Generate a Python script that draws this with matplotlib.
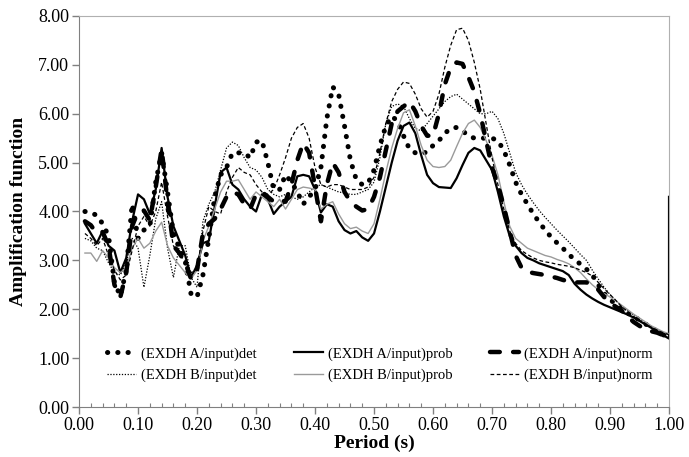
import numpy as np
import matplotlib
matplotlib.use("Agg")
import matplotlib.pyplot as plt
from matplotlib.ticker import MultipleLocator, FormatStrFormatter

plt.rcParams["font.family"] = ["Liberation Serif", "DejaVu Serif"]

# Period samples (s)
period = np.round(np.arange(0.01, 1.005, 0.01), 2)

a_det = [4.00, 3.98, 3.92, 3.75, 3.50, 2.55, 2.27, 2.80, 4.15, 3.45,
         3.62, 3.70, 4.60, 5.20, 4.40, 3.55, 3.25, 2.98, 2.30, 2.25,
         2.70, 3.45, 4.30, 4.75, 4.90, 5.20, 5.20, 5.20, 5.10, 5.42,
         5.45, 5.00, 4.45, 4.45, 4.75, 4.60, 4.40, 4.15, 4.30, 4.45,
         4.90, 5.90, 6.55, 6.40, 5.75, 5.05, 4.65, 4.55, 4.58, 4.85,
         5.35, 5.75, 5.95, 5.85, 5.55, 5.28, 5.20, 5.18, 5.22, 5.35,
         5.45, 5.60, 5.70, 5.72, 5.65, 5.55, 5.50, 5.50, 5.50, 5.50,
         5.45, 5.25, 4.95, 4.60, 4.35, 4.15, 3.95, 3.78, 3.62, 3.48,
         3.36, 3.25, 3.12, 3.02, 2.92, 2.82, 2.70, 2.50, 2.32, 2.20,
         2.10, 2.00, 1.92, 1.85, 1.78, 1.70, 1.62, 1.55, 1.48, 1.42]

a_prob = [3.75, 3.55, 3.35, 3.60, 3.30, 3.20, 2.75, 3.05, 3.80, 4.35,
          4.25, 3.95, 4.45, 5.30, 4.30, 3.70, 3.40, 3.10, 2.65, 2.90,
          3.35, 3.40, 4.10, 4.80, 4.90, 4.55, 4.45, 4.25, 4.10, 4.00,
          4.35, 4.25, 3.95, 4.10, 4.20, 4.30, 4.72, 4.75, 4.72, 4.45,
          3.98, 4.15, 4.10, 3.80, 3.62, 3.55, 3.60, 3.47, 3.40, 3.55,
          4.00, 4.50, 5.00, 5.45, 5.75, 5.82, 5.60, 5.15, 4.75, 4.58,
          4.50, 4.49, 4.48, 4.68, 4.95, 5.20, 5.30, 5.25, 5.05, 4.85,
          4.40, 3.90, 3.50, 3.30, 3.15, 3.05, 3.00, 2.94, 2.90, 2.86,
          2.82, 2.78, 2.70, 2.52, 2.40, 2.30, 2.22, 2.15, 2.09, 2.04,
          1.99, 1.94, 1.89, 1.83, 1.76, 1.69, 1.62, 1.55, 1.47, 1.40]
a_prob_end = 4.30  # jump drawn at T = 1.00

a_norm = [3.80, 3.72, 3.55, 3.58, 3.30, 2.50, 2.25, 2.75, 3.70, 4.00,
          4.02, 3.82, 4.50, 5.28, 4.20, 3.30, 3.15, 2.95, 2.62, 2.80,
          3.55, 3.75, 3.85, 4.05, 4.30, 4.40, 4.35, 4.15, 4.05, 4.35,
          4.40, 4.30, 4.20, 4.25, 4.20, 4.55, 5.05, 5.40, 5.20, 4.50,
          3.80, 4.55, 5.00, 4.80, 4.40, 4.20, 4.10, 4.02, 4.05, 4.30,
          4.70, 5.25, 5.80, 6.05, 6.15, 6.25, 6.05, 5.75, 5.55, 5.55,
          6.00, 6.60, 6.95, 7.05, 7.02, 6.75, 6.45, 6.00, 5.45, 4.90,
          4.55, 4.10, 3.60, 3.10, 2.85, 2.77, 2.74, 2.72, 2.70, 2.67,
          2.64, 2.60, 2.57, 2.55, 2.55, 2.55, 2.48, 2.40, 2.25, 2.13,
          2.05, 1.97, 1.85, 1.74, 1.66, 1.58, 1.55, 1.52, 1.47, 1.42]

b_det = [3.45, 3.40, 3.25, 3.20, 2.95, 2.75, 2.70, 2.95, 3.45, 3.25,
         2.45, 3.10, 3.85, 4.20, 3.25, 2.65, 3.30, 3.30, 2.65, 2.45,
         3.80, 4.15, 4.40, 4.85, 5.30, 5.42, 5.35, 5.10, 4.90, 4.85,
         4.70, 4.45, 4.35, 4.30, 4.35, 4.30, 4.25, 4.30, 4.40, 4.50,
         4.55, 4.50, 4.45, 4.40, 4.38, 4.35, 4.35, 4.40, 4.45, 4.60,
         5.10, 5.80, 6.15, 6.20, 6.15, 5.90, 5.70, 5.65, 5.80, 5.95,
         6.10, 6.25, 6.35, 6.40, 6.30, 6.20, 6.10, 6.00, 6.00, 6.05,
         5.90, 5.60, 5.20, 4.80, 4.55, 4.35, 4.18, 4.02, 3.88, 3.75,
         3.62, 3.50, 3.38, 3.25, 3.12, 3.00, 2.80, 2.62, 2.45, 2.30,
         2.18, 2.05, 1.97, 1.88, 1.80, 1.72, 1.65, 1.58, 1.52, 1.48]

b_prob = [3.15, 3.15, 2.98, 3.20, 3.05, 2.85, 2.75, 2.85, 3.25, 3.45,
          3.25, 3.35, 3.60, 3.78, 3.30, 3.05, 2.90, 2.75, 2.62, 2.80,
          3.40, 3.70, 4.05, 4.40, 4.62, 4.62, 4.65, 4.45, 4.25, 4.40,
          4.30, 4.20, 4.10, 4.25, 4.05, 4.25, 4.45, 4.50, 4.48, 4.45,
          4.05, 4.15, 4.20, 3.95, 3.75, 3.65, 3.68, 3.60, 3.55, 3.75,
          4.25, 4.80, 5.30, 5.70, 6.02, 6.08, 5.75, 5.35, 5.05, 4.92,
          4.90, 4.92, 5.05, 5.33, 5.60, 5.80, 5.87, 5.72, 5.45, 5.15,
          4.75, 4.20, 3.70, 3.45, 3.35, 3.25, 3.20, 3.15, 3.10, 3.07,
          3.02, 2.98, 2.93, 2.85, 2.75, 2.62, 2.50, 2.40, 2.32, 2.25,
          2.17, 2.08, 1.99, 1.90, 1.82, 1.74, 1.66, 1.60, 1.54, 1.50]

b_norm = [3.55, 3.45, 3.30, 3.45, 3.10, 2.80, 2.60, 2.70, 3.20, 3.70,
          3.90, 3.70, 4.00, 4.60, 3.90, 3.30, 3.10, 3.00, 2.75, 2.80,
          3.60, 4.10, 4.00, 3.95, 4.40, 4.70, 4.90, 4.80, 4.75, 4.55,
          4.40, 4.35, 4.45, 4.75, 5.10, 5.50, 5.72, 5.80, 5.50, 4.90,
          4.55, 4.50, 4.55, 4.55, 4.50, 4.45, 4.45, 4.45, 4.50, 4.70,
          5.20, 5.80, 6.25, 6.50, 6.65, 6.62, 6.40, 6.10, 5.93, 6.05,
          6.40, 6.95, 7.40, 7.72, 7.75, 7.50, 7.05, 6.50, 5.80, 5.10,
          4.55, 4.05, 3.60, 3.35, 3.20, 3.12, 3.05, 3.00, 2.97, 2.95,
          2.92, 2.90, 2.88, 2.85, 2.80, 2.75, 2.68, 2.55, 2.42, 2.30,
          2.18, 2.05, 1.95, 1.85, 1.77, 1.70, 1.63, 1.57, 1.52, 1.48]

fig, ax = plt.subplots(figsize=(6.89, 4.57), dpi=100)
fig.subplots_adjust(left=0.1147, right=0.971, bottom=0.1094, top=0.965)

ax.plot(period, a_det, color="black", lw=3.6, linestyle=(0, (0.05, 2.0)),
        dash_capstyle="round", label="(EXDH A/input)det")
ax.plot(period, b_det, color="black", lw=0.9, linestyle=(0, (1, 1.3)),
        label="(EXDH B/input)det")
ax.plot(np.append(period, 1.0), a_prob + [a_prob_end], color="black", lw=1.6,
        label="(EXDH A/input)prob")
ax.plot(period, b_prob, color="#9a9a9a", lw=1.0, label="(EXDH B/input)prob")
ax.plot(period, a_norm, color="black", lw=3.2, linestyle=(0, (2.2, 3.0)),
        dash_capstyle="round", label="(EXDH A/input)norm")
ax.plot(period, b_norm, color="black", lw=0.9, linestyle=(0, (3, 2)),
        label="(EXDH B/input)norm")

ax.set_xlim(0, 1.0)
ax.set_ylim(0, 8.0)
ax.xaxis.set_major_locator(MultipleLocator(0.1))
ax.xaxis.set_minor_locator(MultipleLocator(0.02))
ax.yaxis.set_major_locator(MultipleLocator(1.0))
ax.xaxis.set_major_formatter(FormatStrFormatter("%.2f"))
ax.yaxis.set_major_formatter(FormatStrFormatter("%.2f"))
ax.tick_params(axis="both", which="major", labelsize=13, color="#808080",
               length=5, width=1, direction="out", pad=2)
ax.tick_params(axis="x", which="minor", color="#808080", length=3,
               width=0.8, direction="in")

for side in ["left", "bottom"]:
    ax.spines[side].set_color("#808080")
for side in ["top", "right"]:
    ax.spines[side].set_color("#b0b0b0")

ax.set_xlabel("Period (s)", fontsize=14, fontweight="bold", labelpad=1)
ax.set_ylabel("Amplification function", fontsize=14, fontweight="bold",
              labelpad=8)

ax.legend(loc="lower left", bbox_to_anchor=(0.035, 0.045), ncol=3,
          frameon=False, fontsize=10.5, handlelength=2.0, handletextpad=0.3,
          columnspacing=2.6, borderpad=0, labelspacing=0.55)

plt.savefig("out.png", dpi=100)
